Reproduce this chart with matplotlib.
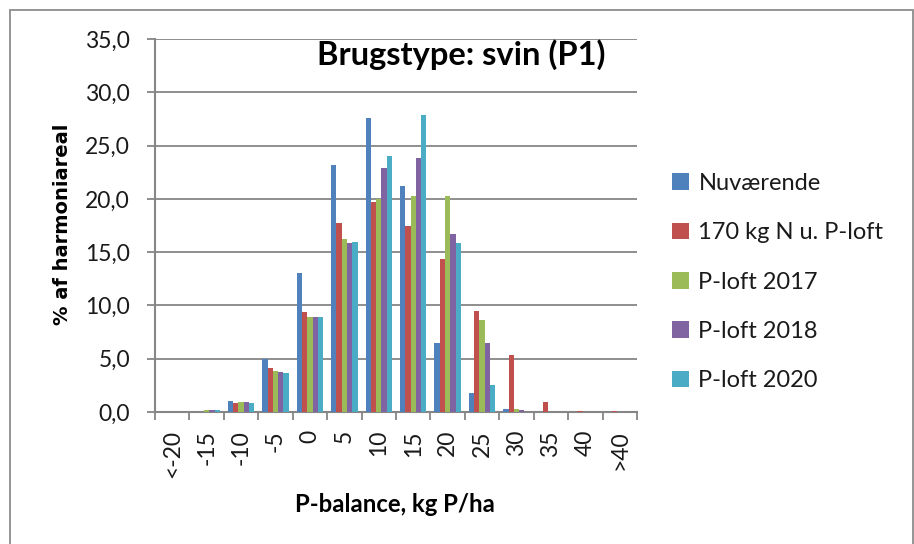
import matplotlib
matplotlib.use("Agg")
import matplotlib.pyplot as plt
from matplotlib.patches import Rectangle, Patch
import numpy as np

categories = ["<-20", "-15", "-10", "-5", "0", "5", "10", "15", "20", "25", "30", "35", "40", ">40"]
series_names = ["Nuværende", "170 kg N u. P-loft", "P-loft 2017", "P-loft 2018", "P-loft 2020"]
nuvaerende = [0.0, 0.0, 1.05, 5.0, 13.0, 23.2, 27.6, 21.2, 6.45, 1.8, 0.25, 0.0, 0.0, 0.0]
kg170 = [0.0, 0.0, 0.85, 4.1, 9.35, 17.7, 19.75, 17.5, 14.4, 9.5, 5.35, 0.97, 0.08, 0.12]
ploft2017 = [0.0, 0.15, 0.9, 3.85, 8.95, 16.25, 20.0, 20.3, 20.3, 8.65, 0.3, 0.0, 0.0, 0.0]
ploft2018 = [0.0, 0.15, 0.95, 3.8, 8.9, 15.9, 22.9, 23.8, 16.7, 6.5, 0.2, 0.0, 0.0, 0.0]
ploft2020 = [0.0, 0.15, 0.85, 3.7, 8.9, 15.95, 24.0, 27.9, 15.85, 2.5, 0.0, 0.0, 0.0, 0.0]
yticks = [0, 5, 10, 15, 20, 25, 30, 35]
title = "Brugstype: svin (P1)"
xlabel = "P-balance, kg P/ha"
ylabel = "% af harmoniareal"

colors = ["#4F81BD", "#C0504D", "#9BBB59", "#8064A2", "#4BACC6"]
series = [nuvaerende, kg170, ploft2017, ploft2018, ploft2020]

W, H = 914, 544
fig = plt.figure(figsize=(W / 100, H / 100), dpi=100)
fig.patch.set_facecolor("white")

# outer chart border
fig.patches.append(Rectangle((10 / W, -0.05), (913 - 10) / W, (H - 10) / H + 0.05,
                             transform=fig.transFigure, fill=False,
                             edgecolor="#8c8c8c", linewidth=1.3, zorder=0))

ax = fig.add_axes([155 / W, 1 - 412 / H, (637 - 155) / W, (412 - 39) / H])

x = np.arange(len(categories))
w = 1 / 6.5
for i, (vals, c, name) in enumerate(zip(series, colors, series_names)):
    ax.bar(x + (i - 2) * w, vals, width=w, color=c, edgecolor="none",
           label=name, zorder=3)

ax.set_xlim(-0.5, len(categories) - 0.5)
ax.set_ylim(0, 35)

gray = "#868686"
font = "Lato"
ax.set_yticks(yticks)
ax.set_yticklabels([f"{v:.1f}".replace(".", ",") for v in yticks],
                   fontfamily=font, fontsize=16.5, color="#1a1a1a")
ax.yaxis.grid(True, color=gray, linewidth=1.3, zorder=1)
ax.set_axisbelow(True)

ax.set_xticks(np.arange(len(categories) + 1) - 0.5)
ax.set_xticklabels([])
ax.set_xticks(x, minor=True)
ax.set_xticklabels(categories, minor=True, rotation=90, fontfamily=font,
                   fontsize=16.5, color="#1a1a1a", va="top", ha="center")
ax.tick_params(axis="x", which="major", length=6, width=1.3, color=gray, direction="out")
ax.tick_params(axis="x", which="minor", length=0, pad=13)
ax.tick_params(axis="y", which="major", length=6, width=1.3, color=gray, direction="out", pad=12)

for s in ["top", "right"]:
    ax.spines[s].set_visible(False)
for s in ["left", "bottom"]:
    ax.spines[s].set_color(gray)
    ax.spines[s].set_linewidth(1.5)

fig.text(461 / W, 1 - 55 / H, title, fontfamily=font, fontweight="bold",
         fontsize=23.5, ha="center", va="center", color="black")
fig.text(395 / W, 1 - 505 / H, xlabel, fontfamily=font, fontweight="bold",
         fontsize=17.2, ha="center", va="center", color="black")
fig.text(62 / W, 1 - 224 / H, ylabel, fontfamily="DejaVu Sans", fontweight="bold",
         fontsize=14, ha="center", va="center", rotation=90, color="black")

handles = [Patch(facecolor=c, edgecolor="none") for c in colors]
leg = fig.legend(handles, series_names, loc="upper left",
                 bbox_to_anchor=(672 / W, 1 - 173 / H), frameon=False,
                 prop={"family": font, "size": 17}, handlelength=0.72,
                 handleheight=0.72, handletextpad=0.4, labelspacing=1.2,
                 borderaxespad=0, borderpad=0)
for t in leg.get_texts():
    t.set_color("#1a1a1a")

fig.savefig("out.png", dpi=100, facecolor="white")
